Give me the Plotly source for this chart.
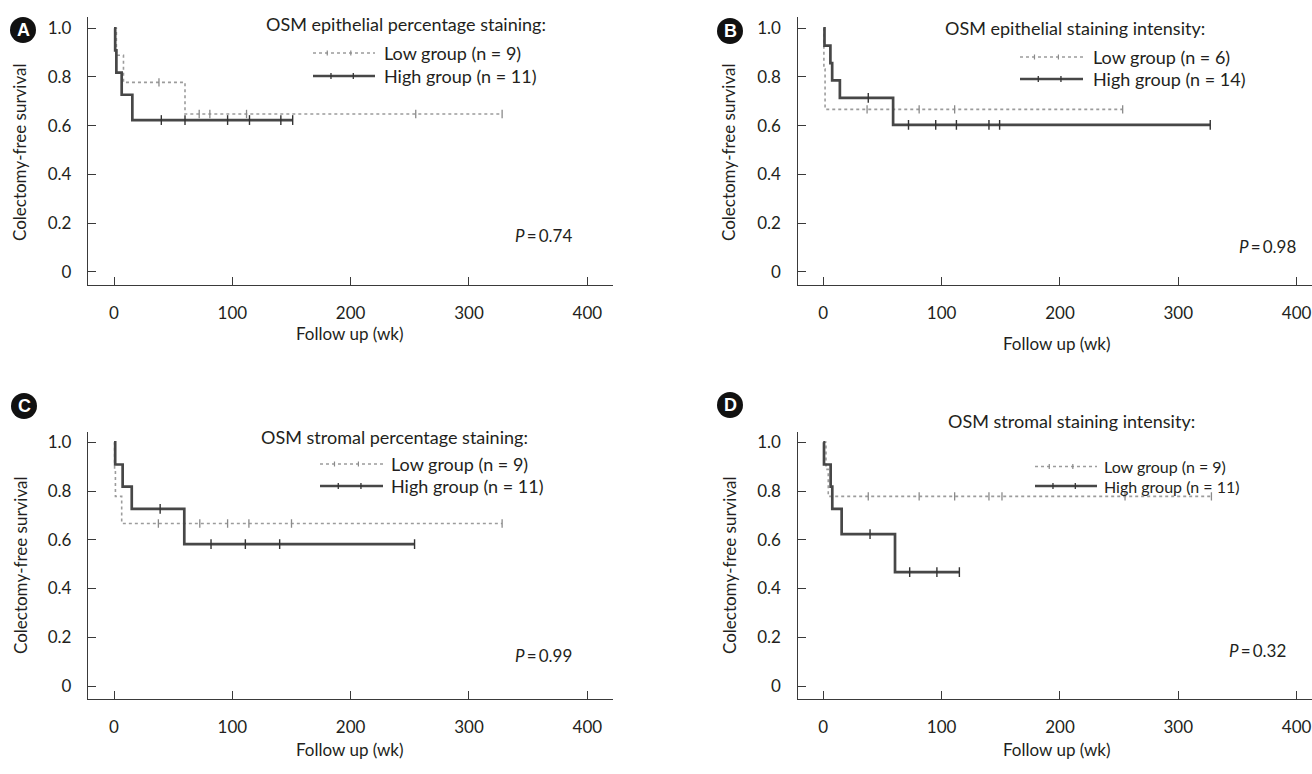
import plotly.graph_objects as go

W, H = 1312, 774

# ---------------- data ----------------
panel_letters = ["A", "B", "C", "D"]
panel_titles = [
    "OSM epithelial percentage staining:",
    "OSM epithelial staining intensity:",
    "OSM stromal percentage staining:",
    "OSM stromal staining intensity:",
]
p_values = ["0.74", "0.98", "0.99", "0.32"]
low_n = [9, 6, 9, 9]
high_n = [11, 14, 11, 11]

x_tick_vals = [0, 100, 200, 300, 400]
y_tick_vals = [0, 0.2, 0.4, 0.6, 0.8, 1.0]
y_tick_text = ["0", "0.2", "0.4", "0.6", "0.8", "1.0"]

# Panel A
a_low_time = [0, 2, 8, 60, 328]
a_low_surv = [1.0, 0.889, 0.778, 0.648, 0.648]
a_low_cens = [38, 72, 81, 112, 255, 328]
a_high_time = [0, 1, 2, 6.5, 15.5, 151]
a_high_surv = [1.0, 0.909, 0.818, 0.727, 0.623, 0.623]
a_high_cens = [40, 60, 96, 114.5, 141, 151]

# Panel B
b_low_time = [0, 0.5, 1.5, 253]
b_low_surv = [1.0, 0.833, 0.667, 0.667]
b_low_cens = [37, 81, 111, 253]
b_high_time = [0, 1, 6, 7.5, 14, 59, 327]
b_high_surv = [1.0, 0.929, 0.857, 0.786, 0.714, 0.603, 0.603]
b_high_cens = [38, 72, 95, 112.5, 140, 149, 327]

# Panel C
c_low_time = [0, 0.5, 1.2, 6.5, 328]
c_low_surv = [1.0, 0.889, 0.778, 0.667, 0.667]
c_low_cens = [37.5, 72.5, 96, 114, 150, 328]
c_high_time = [0, 1, 7.3, 15, 59.4, 254]
c_high_surv = [1.0, 0.909, 0.818, 0.727, 0.582, 0.582]
c_high_cens = [39, 82, 111, 140, 254]

# Panel D
d_low_time = [0, 2.3, 4.2, 328]
d_low_surv = [1.0, 0.889, 0.778, 0.778]
d_low_cens = [38, 81, 111, 140, 151, 255, 328]
d_high_time = [0, 0.6, 6.2, 7.6, 15.5, 60.6, 115]
d_high_surv = [1.0, 0.909, 0.818, 0.727, 0.623, 0.467, 0.467]
d_high_cens = [39.5, 73, 96, 115]

curves = [
    (a_low_time, a_low_surv, a_low_cens, a_high_time, a_high_surv, a_high_cens),
    (b_low_time, b_low_surv, b_low_cens, b_high_time, b_high_surv, b_high_cens),
    (c_low_time, c_low_surv, c_low_cens, c_high_time, c_high_surv, c_high_cens),
    (d_low_time, d_low_surv, d_low_cens, d_high_time, d_high_surv, d_high_cens),
]

# ---------------- layout geometry (pixels) ----------------
panels = [
    dict(x0=88, x1=613, y0=17, y1=285, xorig=114, yorig=271.7, yscale=243.4,
         title=(264, 24), leg=(313, 375, 382, 53, 76), legsize=18, pval=(513, 236),
         ylab=(20, 152), xlab=(350, 333), badge=(23, 30)),
    dict(x0=797.5, x1=1312, y0=17, y1=285, xorig=823.3, yorig=271.7, yscale=243.4,
         title=(943, 28), leg=(1020, 1083, 1091, 57, 79), legsize=18, pval=(1237, 246),
         ylab=(729, 152), xlab=(1057, 343), badge=(730, 31)),
    dict(x0=88, x1=613, y0=431.7, y1=699.3, xorig=114, yorig=686, yscale=243.7,
         title=(259, 437), leg=(320, 383, 389, 464, 486), legsize=18, pval=(513, 655),
         ylab=(20, 565), xlab=(350, 749), badge=(24, 406)),
    dict(x0=797.5, x1=1312, y0=431.7, y1=699.3, xorig=823.3, yorig=686, yscale=243.7,
         title=(946, 421), leg=(1035, 1097, 1102, 466.5, 486), legsize=16, pval=(1227, 650),
         ylab=(729, 565), xlab=(1057, 749), badge=(730, 405)),
]
XSCALE = 1.1833  # px per week

FONT = "Lato, 'Noto Sans', sans-serif"
TXT = "#231f20"
AXC = "#3a3a3a"
HIGH_C = "#474747"
LOW_C = "#9c9c9c"


def fx(px):
    return px / W


def fy(py):
    return 1 - py / H


def surv_at(times, survs, t):
    s = survs[0]
    for ti, si in zip(times, survs):
        if ti <= t:
            s = si
    return s


fig = go.Figure()
shapes = []
annotations = []

for i, (pn, cv) in enumerate(zip(panels, curves)):
    lt, ls, lc, ht, hs, hc = cv
    ax = "" if i == 0 else str(i + 1)
    xa, ya = "x" + ax, "y" + ax

    # Low group (dotted)
    fig.add_trace(go.Scatter(x=lt, y=ls, mode="lines", line=dict(shape="hv", color=LOW_C, width=1.6, dash="dot"),
                             xaxis=xa, yaxis=ya, showlegend=False, hoverinfo="skip"))
    fig.add_trace(go.Scatter(x=lc, y=[surv_at(lt, ls, t) for t in lc], mode="markers",
                             marker=dict(symbol="line-ns-open", size=6, color="#8a8a8a",
                                         line=dict(color="#8a8a8a", width=1.3)),
                             xaxis=xa, yaxis=ya, showlegend=False, hoverinfo="skip"))
    # High group (solid)
    fig.add_trace(go.Scatter(x=ht, y=hs, mode="lines", line=dict(shape="hv", color=HIGH_C, width=2.7),
                             xaxis=xa, yaxis=ya, showlegend=False, hoverinfo="skip"))
    fig.add_trace(go.Scatter(x=hc, y=[surv_at(ht, hs, t) for t in hc], mode="markers",
                             marker=dict(symbol="line-ns-open", size=7, color="#333333",
                                         line=dict(color="#333333", width=1.4)),
                             xaxis=xa, yaxis=ya, showlegend=False, hoverinfo="skip"))

    xr = [(pn["x0"] - pn["xorig"]) / XSCALE, (pn["x1"] - pn["xorig"]) / XSCALE]
    yr = [(pn["yorig"] - pn["y1"]) / pn["yscale"], (pn["yorig"] - pn["y0"]) / pn["yscale"]]

    common = dict(showline=True, linecolor=AXC, linewidth=1.4, ticks="inside", ticklen=8, tickwidth=1.2,
                  tickcolor=AXC, showgrid=False, zeroline=False, fixedrange=True,
                  tickfont=dict(family=FONT, size=17, color=TXT))
    fig.layout["xaxis" + ax] = dict(common, domain=[fx(pn["x0"]), fx(pn["x1"])], range=xr,
                                   anchor=ya, tickvals=x_tick_vals, ticklabelstandoff=12)
    fig.layout["yaxis" + ax] = dict(common, domain=[fy(pn["y1"]), fy(pn["y0"])], range=yr,
                                   anchor=xa, tickvals=y_tick_vals, ticktext=y_tick_text, ticklabelstandoff=12)

    # Title
    tx, ty = pn["title"]
    annotations.append(dict(x=fx(tx), y=fy(ty), xref="paper", yref="paper", text=panel_titles[i],
                            showarrow=False, xanchor="left", yanchor="middle",
                            font=dict(family=FONT, size=18, color=TXT)))
    # Legend
    lx0, lx1, ltx, ly_low, ly_high = pn["leg"]
    shapes.append(dict(type="line", xref="paper", yref="paper", x0=fx(lx0), x1=fx(lx1), y0=fy(ly_low), y1=fy(ly_low),
                       line=dict(color=LOW_C, width=1.6, dash="dot")))
    shapes.append(dict(type="line", xref="paper", yref="paper", x0=fx(lx0), x1=fx(lx1), y0=fy(ly_high), y1=fy(ly_high),
                       line=dict(color=HIGH_C, width=2.7)))
    for frac in (0.23, 0.61):
        mx = lx0 + frac * (lx1 - lx0)
        shapes.append(dict(type="line", xref="paper", yref="paper", x0=fx(mx), x1=fx(mx),
                           y0=fy(ly_low - 2.5), y1=fy(ly_low + 2.5), line=dict(color="#8a8a8a", width=1.2)))
    for frac in (0.29, 0.65):
        mx = lx0 + frac * (lx1 - lx0)
        shapes.append(dict(type="line", xref="paper", yref="paper", x0=fx(mx), x1=fx(mx),
                           y0=fy(ly_high - 3), y1=fy(ly_high + 3), line=dict(color="#333333", width=1.3)))
    annotations.append(dict(x=fx(ltx), y=fy(ly_low), xref="paper", yref="paper",
                            text="Low group (n = %d)" % low_n[i], showarrow=False,
                            xanchor="left", yanchor="middle", font=dict(family=FONT, size=pn["legsize"], color=TXT)))
    annotations.append(dict(x=fx(ltx), y=fy(ly_high), xref="paper", yref="paper",
                            text="High group (n = %d)" % high_n[i], showarrow=False,
                            xanchor="left", yanchor="middle", font=dict(family=FONT, size=pn["legsize"], color=TXT)))
    # P value
    px_, py_ = pn["pval"]
    annotations.append(dict(x=fx(px_), y=fy(py_), xref="paper", yref="paper",
                            text="<i>P</i>\u2009=\u2009" + p_values[i], showarrow=False,
                            xanchor="left", yanchor="middle", font=dict(family=FONT, size=17, color=TXT)))
    # Axis titles
    yx, yy = pn["ylab"]
    annotations.append(dict(x=fx(yx), y=fy(yy), xref="paper", yref="paper", text="Colectomy-free survival",
                            textangle=-90, showarrow=False, xanchor="center", yanchor="middle",
                            font=dict(family=FONT, size=17, color=TXT)))
    xx, xy = pn["xlab"]
    annotations.append(dict(x=fx(xx), y=fy(xy), xref="paper", yref="paper", text="Follow up (wk)",
                            showarrow=False, xanchor="center", yanchor="middle",
                            font=dict(family=FONT, size=17, color=TXT)))
    # Badge
    bx, by = pn["badge"]
    r = 13
    shapes.append(dict(type="circle", xref="paper", yref="paper", x0=fx(bx - r), x1=fx(bx + r),
                       y0=fy(by + r), y1=fy(by - r), fillcolor="#111111", line=dict(width=0)))
    annotations.append(dict(x=fx(bx), y=fy(by), xref="paper", yref="paper", text="<b>%s</b>" % panel_letters[i],
                            showarrow=False, xanchor="center", yanchor="middle",
                            font=dict(family="'Liberation Sans', Arial, sans-serif", size=18, color="white")))

fig.update_layout(
    width=W, height=H, margin=dict(l=0, r=0, t=0, b=0),
    paper_bgcolor="white", plot_bgcolor="white",
    shapes=shapes, annotations=annotations, showlegend=False,
)

fig.write_html("out.html", config={"displayModeBar": False},
               post_script="document.body.style.margin='0px';document.body.style.overflow='hidden';")
